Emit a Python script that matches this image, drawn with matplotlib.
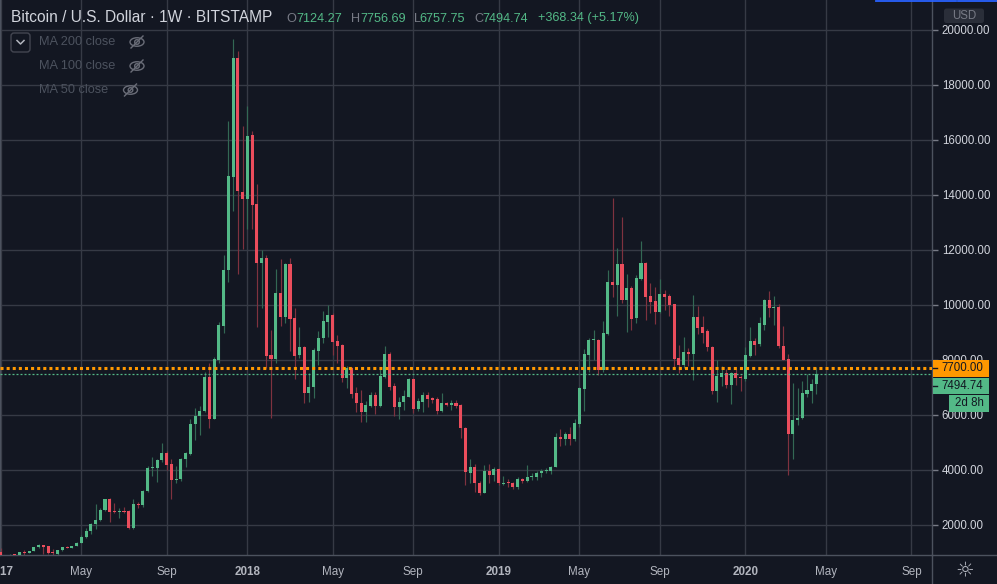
import numpy as np
import pandas as pd
import matplotlib
matplotlib.use("Agg")
import matplotlib.pyplot as plt
import matplotlib.dates as mdates
from matplotlib.patches import FancyBboxPatch, Rectangle, Ellipse, Circle

# ---------------- data (weekly BTC/USD, Bitstamp) ----------------
first_week = "2017-01-02"

open_2017 = [1015, 905, 820, 930, 915, 1020, 998, 1055, 1190, 1270, 1237, 1030, 950, 1085, 1195, 1170,
             1230, 1350, 1570, 1790, 2040, 2180, 2530, 2945, 2509, 2490, 2510, 2520, 1900, 2760, 2730,
             3236, 4072, 4090, 4360, 4618, 4218, 3636, 3680, 4400, 4580, 5673, 5952, 6145, 7381, 5854,
             8000, 9236, 11272, 14654, 18981, 14108]
high_2017 = [1150, 915, 935, 935, 1030, 1080, 1070, 1210, 1297, 1290, 1250, 1127, 1100, 1210, 1220, 1245,
             1365, 1640, 1900, 2060, 2763, 2600, 2960, 2980, 2811, 2600, 2670, 2560, 2945, 2830, 3290,
             4163, 4484, 4400, 4981, 4690, 4400, 4160, 4450, 4650, 5854, 6242, 6327, 7575, 7890, 8100,
             9370, 11818, 16690, 19672, 19236, 16508]
low_2017 = [880, 750, 810, 885, 910, 920, 985, 1040, 1150, 956, 940, 900, 920, 1060, 1150, 1150,
            1225, 1330, 1540, 1680, 1842, 2130, 2500, 2120, 2430, 2250, 2440, 1840, 1870, 2620, 2660,
            3190, 3793, 3575, 4300, 4000, 2945, 3540, 3600, 4120, 4550, 5090, 5290, 6100, 5527, 5850,
            7900, 8993, 10847, 13400, 11127, 12036]
close_2017 = [905, 820, 925, 915, 1015, 998, 1060, 1190, 1270, 1200, 994, 970, 1090, 1195, 1170, 1237,
              1350, 1575, 1790, 2040, 2180, 2560, 2945, 2485, 2475, 2505, 2480, 1891, 2760, 2730, 3236,
              4072, 4090, 4363, 4618, 4182, 3636, 3680, 4400, 4618, 5673, 5952, 6145, 7381, 5854, 8036,
              9272, 11272, 14690, 18981, 14156, 13854]

open_2018 = [13855, 16181, 13672, 11527, 11709, 8181, 8036, 10436, 9575, 11490, 9527, 8181, 8461, 6811,
             7006, 8327, 8788, 9394, 9636, 8691, 8545, 7333, 7697, 6788, 6448, 6121, 6327, 6727, 6327,
             7370, 8218, 7054, 6303, 6460, 6672, 7309, 6218, 6484, 6727, 6618, 6581, 6145, 6448, 6375,
             6448, 6363, 5539, 3903, 4121, 3540, 3175, 3963, 3818]
high_2018 = [17236, 16327, 14400, 12000, 11818, 9090, 11308, 11672, 11527, 11709, 9890, 9212, 8500, 7515,
             8424, 9060, 9793, 10000, 9700, 8909, 8584, 7782, 7760, 7030, 6909, 6509, 6848, 6848, 7697,
             8509, 8303, 7151, 6666, 6909, 7333, 7345, 6609, 6836, 6818, 6666, 6666, 6787, 6484, 6545,
             6545, 6400, 5560, 4400, 4200, 3600, 4181, 4236, 4120]
low_2018 = [12763, 12763, 9211, 9902, 7700, 5902, 7900, 9236, 9350, 8339, 7309, 8061, 6424, 6483,
            6618, 7818, 8606, 8848, 8181, 7903, 7212, 6970, 6618, 6121, 5757, 5757, 6278, 6036, 6300,
            7340, 6909, 5975, 5854, 6181, 6642, 6060, 6157, 6121, 6303, 6424, 6036, 6097, 6327, 6181,
            6242, 5175, 3454, 3515, 3200, 3090, 3150, 3540, 3611]
close_2018 = [16145, 13636, 11527, 11709, 8145, 8036, 10436, 9575, 11490, 9502, 8145, 8461, 6811, 7006,
              8363, 8788, 9418, 9636, 8667, 8521, 7333, 7697, 6763, 6448, 6121, 6363, 6727, 6327, 7418,
              8218, 7030, 6303, 6484, 6690, 7309, 6218, 6521, 6727, 6581, 6545, 6157, 6448, 6375, 6448,
              6327, 5539, 3939, 4121, 3515, 3175, 3963, 3818, 4036]

open_2019 = [4036, 3500, 3540, 3515, 3370, 3660, 3600, 3733, 3745, 3890, 3963, 3963, 4109, 5200, 5127,
             5321, 5127, 5672, 6945, 8194, 8727, 8727, 7636, 8945, 10836, 10727, 11490, 10181, 10618,
             9527, 10945, 11527, 10327, 10145, 9745, 10399, 10327, 10036, 8072, 7818, 8279, 8218, 9563,
             9212, 9066, 8484, 6884, 7393, 7515, 7090, 7515, 7393]
high_2019 = [4090, 3790, 3672, 3563, 3733, 3696, 4181, 3878, 3963, 4024, 4072, 4145, 5345, 5490, 5393,
             5563, 5854, 7030, 8400, 8787, 9090, 8751, 9418, 11272, 13878, 12060, 13200, 11127, 10690,
             11090, 12327, 11563, 10800, 10654, 10950, 10545, 10400, 10050, 8545, 8836, 8424, 10363,
             9963, 9600, 9120, 8520, 7999, 7781, 7660, 7550, 7660, 7450]
low_2019 = [3450, 3454, 3394, 3309, 3309, 3515, 3580, 3636, 3636, 3757, 3878, 3854, 4100, 4880, 4909,
            4909, 5066, 5575, 6157, 7550, 8000, 7454, 7560, 8900, 10303, 9600, 10084, 9030, 9090, 9333,
            10900, 9454, 9700, 9309, 9700, 9818, 9600, 7733, 7527, 7697, 7781, 7272, 8945, 8630, 8339,
            6760, 6484, 7054, 6970, 6400, 7100, 6860]
close_2019 = [3515, 3540, 3520, 3370, 3672, 3600, 3733, 3781, 3890, 3975, 3990, 4109, 5212, 5127, 5321,
              5127, 5709, 6993, 8230, 8727, 8750, 7636, 8970, 10836, 10727, 11490, 10181, 10618, 9490,
              10981, 11527, 10290, 10109, 9745, 10399, 10290, 10000, 8036, 7818, 8279, 8218, 9563, 9175,
              8994, 8484, 6884, 7418, 7515, 7090, 7515, 7345, 7345]

open_2020 = [7309, 8145, 8691, 8570, 9272, 10181, 9903, 9939, 8509, 8036, 5309, 5806, 5884, 6763, 6872, 7124.27]
high_2020 = [8484, 9212, 8788, 9575, 10200, 10509, 10327, 10036, 9236, 8218, 7175, 6993, 7236, 7479, 7320, 7756.69]
low_2020 = [7250, 8100, 8181, 8509, 9090, 9575, 9272, 8424, 7990, 3818, 4400, 5636, 5850, 6666, 6448, 6757.75]
close_2020 = [8181, 8691, 8545, 9357, 10181, 9903, 9939, 8509, 8000, 5309, 5818, 5903, 6811, 6909, 7139, 7494.74]

price_levels = [2000, 4000, 6000, 8000, 10000, 12000, 14000, 16000, 18000, 20000]
time_ticks = ["2017-01-02", "2017-05-01", "2017-09-04", "2018-01-01", "2018-05-07", "2018-09-03",
              "2019-01-07", "2019-05-06", "2019-09-02", "2020-01-06", "2020-05-04", "2020-09-07"]
time_labels = ["2017", "May", "Sep", "2018", "May", "Sep", "2019", "May", "Sep", "2020", "May", "Sep"]
alert_price = 7700.00
last_price = 7494.74

# ---------------- style ----------------
BG = "#131722"
GRID = "#363a45"
AXIS = "#4c525e"
TXT = "#b2b5be"
UP, DOWN = "#53b987", "#eb4d5c"
WUP, WDOWN = "#336854", "#7f323f"
FONT = "Liberation Sans"
plt.rcParams["font.family"] = [FONT, "DejaVu Sans"]

W, H = 997, 584
fig = plt.figure(figsize=(W / 100, H / 100), dpi=100, facecolor=BG)
ax = fig.add_axes([0, 29 / H, 932 / W, 555 / H])
ax.set_facecolor(BG)

o = np.array(open_2017 + open_2018 + open_2019 + open_2020, float)
h = np.array(high_2017 + high_2018 + high_2019 + high_2020, float)
l = np.array(low_2017 + low_2018 + low_2019 + low_2020, float)
c = np.array(close_2017 + close_2018 + close_2019 + close_2020, float)
dates = pd.date_range(first_week, periods=len(c), freq="7D")
x = mdates.date2num(dates.to_pydatetime())

up = c >= o
ax.vlines(x[up], l[up], h[up], color=WUP, lw=0.85, zorder=2)
ax.vlines(x[~up], l[~up], h[~up], color=WDOWN, lw=0.85, zorder=2)
bottom = np.minimum(o, c)
height = np.maximum(np.abs(c - o), 36)
ax.bar(x[up], height[up], bottom=bottom[up], width=4.5, color=UP, lw=0, zorder=3)
ax.bar(x[~up], height[~up], bottom=bottom[~up], width=4.5, color=DOWN, lw=0, zorder=3)

px_per_day = 0.6776
x2018 = mdates.date2num(pd.Timestamp("2018-01-01").to_pydatetime())
left = x2018 - 247.3 / px_per_day
ax.set_xlim(left, left + 932 / px_per_day)
ax.set_ylim(909, 21090)

tick_x = mdates.date2num(pd.to_datetime(time_ticks).to_pydatetime())
ax.set_xticks(tick_x)
ax.set_xticklabels(time_labels)
for lab, t in zip(ax.get_xticklabels(), time_labels):
    if t.isdigit():
        lab.set_fontweight("bold")
        lab.set_color("#d1d4dc")
ax.tick_params(axis="x", length=0, pad=8, labelsize=8.4, labelcolor=TXT)

ax.yaxis.tick_right()
ax.set_yticks(price_levels)
ax.set_yticklabels([f"{v:.2f}" for v in price_levels])
ax.tick_params(axis="y", length=4, width=1, color="#787b86", pad=3, labelsize=8.3, labelcolor="#d1d4dc")
ax.grid(True, color=GRID, lw=1, zorder=0)
ax.set_axisbelow(True)
ax.spines["top"].set_visible(False)
for s in ["right", "bottom", "left"]:
    ax.spines[s].set_color(AXIS)
    ax.spines[s].set_linewidth(1)

ax.axhline(alert_price, color="#ff9800", lw=2.2, linestyle=(0, (1, 1)), dash_capstyle="butt", zorder=5)
ax.axhline(last_price, color=UP, lw=0.9, linestyle=(0, (1.6, 1.6)), zorder=5)

# ---------------- overlay (pixel coordinates, y down) ----------------
ov = fig.add_axes([0, 0, 1, 1], zorder=10)
ov.set_xlim(0, W)
ov.set_ylim(H, 0)
ov.axis("off")
ov.patch.set_alpha(0)


def data_y_to_px(p):
    return H - ax.transData.transform((left, p))[1]


# header
ov.text(10.5, 18, "Bitcoin / U.S. Dollar · 1W · BITSTAMP", fontsize=11.2, color="#d1d4dc", va="center")
pieces = [(286, "O", "#787b86"), (296.5, "7124.27", UP), (350.6, "H", "#787b86"), (360, "7756.69", UP),
          (413.7, "L", "#787b86"), (419.5, "6757.75", UP), (474.7, "C", "#787b86"), (482.5, "7494.74", UP),
          (538, "+368.34 (+5.17%)", UP)]
for px, s, col in pieces:
    ov.text(px, 18.5, s, fontsize=9.1, color=col, va="center")

# legend
ov.add_patch(FancyBboxPatch((11, 33), 19, 19, boxstyle="round,pad=0,rounding_size=3",
                            fill=False, ec="#434651", lw=1))
ov.plot([17, 20.5, 24], [40.5, 44, 40.5], color="#b2b5be", lw=1.1)
EYE = "#6a6d78"
for yy, label, ex in [(42, "MA 200 close", 137), (66, "MA 100 close", 137), (90, "MA 50 close", 130.5)]:
    ov.text(38.5, yy, label, fontsize=9.2, color="#4c525e", va="center")
    ov.add_patch(Ellipse((ex, yy), 14, 8.5, fill=False, ec=EYE, lw=1))
    ov.add_patch(Circle((ex, yy), 2.3, fill=False, ec=EYE, lw=1))
    ov.plot([ex - 6, ex + 6], [yy + 6, yy - 6], color=EYE, lw=1)

# price labels
ya = data_y_to_px(alert_price)
ov.add_patch(Rectangle((932.5, ya - 8.3), 56.5, 16.6, fc="#ff9800", ec="none"))
ov.plot([933, 937], [ya, ya], color=BG, lw=1)
ov.text(941.5, ya, f"{alert_price:.2f}", fontsize=8.3, color=BG, va="center")
yl = ya + 17.3
ov.add_patch(Rectangle((932.5, yl - 8.0), 56.5, 16.0, fc=UP, ec="none"))
ov.plot([933, 937], [yl, yl], color=BG, lw=1)
ov.text(941.5, yl, f"{last_price:.2f}", fontsize=8.3, color=BG, va="center")
ov.add_patch(Rectangle((949, yl + 9.6), 40, 16.4, fc=UP, ec="none"))
ov.text(969, yl + 17.8, "2d 8h", fontsize=8.3, color=BG, va="center", ha="center")

# top-right / bottom-right decorations
ov.add_patch(FancyBboxPatch((944, 8.5), 40, 14.5, boxstyle="round,pad=0,rounding_size=2.5",
                            fc="#2a2e39", ec="none"))
ov.text(964, 15.8, "USD", fontsize=8.3, color="#787b86", va="center", ha="center")
ov.plot([876, 956], [0.6, 0.6], color="#2962ff", lw=1.3)
ov.plot([958, 997], [0.6, 0.6], color="#2962ff", lw=1.3)
ov.plot([932, 997], [555, 555], color=AXIS, lw=1)
ov.plot([932, 932], [555, 584], color=AXIS, lw=1)
ov.text(965, 570, "☼", fontsize=15, color=TXT, va="center", ha="center", family="DejaVu Sans")

fig.savefig("out.png", dpi=100, facecolor=BG)
